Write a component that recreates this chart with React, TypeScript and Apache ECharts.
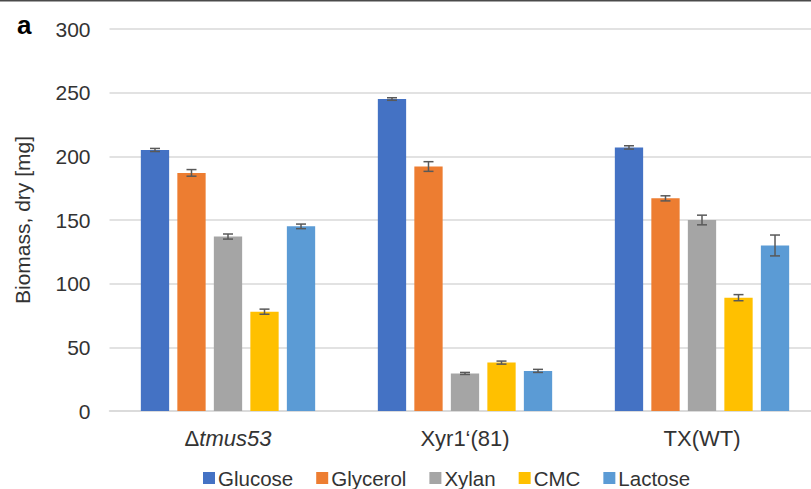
import React, { useEffect, useRef } from "react";
import * as echarts from "echarts";

const categories = ["Δtmus53", "Xyr1‘(81)", "TX(WT)"];
const seriesNames = ["Glucose", "Glycerol", "Xylan", "CMC", "Lactose"];
const glucose = [205, 245, 207];
const glycerol = [187, 192, 167];
const xylan = [137, 29.5, 150];
const cmc = [78, 38, 89];
const lactose = [145, 31.5, 130];
const glucoseErr = [1.2, 1, 1.3];
const glycerolErr = [2.6, 3.8, 2];
const xylanErr = [2, 0.8, 3.8];
const cmcErr = [2, 1.2, 2.4];
const lactoseErr = [1.8, 1.2, 8.2];
const yTicks = [0, 50, 100, 150, 200, 250, 300];

const colors = ["#4472C4", "#ED7D31", "#A5A5A5", "#FFC000", "#5B9BD5"];
const BAR_W = 28.3;
const GAP_RATIO = 0.29;
const FONT = "Liberation Sans, Arial, sans-serif";

export default function App() {
  const ref = useRef<HTMLDivElement>(null);
  useEffect(() => {
    if (!ref.current) return;
    const chart = echarts.init(ref.current, null, { renderer: "svg" });
    const values = [glucose, glycerol, xylan, cmc, lactose];
    const errs = [glucoseErr, glycerolErr, xylanErr, cmcErr, lactoseErr];
    const barSeries = seriesNames.map((name, i) => ({
      name,
      type: "bar",
      data: values[i],
      barWidth: BAR_W,
      barGap: `${GAP_RATIO * 100}%`,
      itemStyle: { color: colors[i] },
      z: 2,
    }));
    const errSeries = seriesNames.map((name, i) => ({
      name: name + " err",
      type: "custom",
      z: 5,
      data: values[i].map((v, k) => [k, v - errs[i][k], v + errs[i][k]]),
      encode: { x: 0, y: [1, 2] },
      renderItem: (params: any, api: any) => {
        const idx = api.value(0);
        const lo = api.coord([idx, api.value(1)]);
        const hi = api.coord([idx, api.value(2)]);
        const x = lo[0] + (i - 2) * BAR_W * (1 + GAP_RATIO);
        const cap = 5;
        const style = { stroke: "#595959", lineWidth: 1.5 };
        return {
          type: "group",
          children: [
            { type: "line", shape: { x1: x, y1: lo[1], x2: x, y2: hi[1] }, style },
            { type: "line", shape: { x1: x - cap, y1: lo[1], x2: x + cap, y2: lo[1] }, style },
            { type: "line", shape: { x1: x - cap, y1: hi[1], x2: x + cap, y2: hi[1] }, style },
          ],
        };
      },
    }));
    chart.setOption({
      animation: false,
      textStyle: { fontFamily: FONT },
      grid: { left: 109.5, width: 711, top: 29, height: 382 },
      legend: {
        data: seriesNames,
        left: 203,
        top: 467.5,
        padding: 0,
        itemWidth: 12,
        itemHeight: 12,
        itemGap: 23,
        icon: "rect",
        textStyle: { fontSize: 20.5, color: "#333333", fontFamily: FONT, padding: [0, 0, 0, -2] },
      },
      xAxis: {
        type: "category",
        data: categories,
        axisLine: { lineStyle: { color: "#d9d9d9", width: 1.5 } },
        axisTick: { show: false },
        axisLabel: {
          fontSize: 22,
          color: "#333333",
          margin: 16,
          formatter: (v: string) => (v.startsWith("Δ") ? `{n|Δ}{i|${v.slice(1)}}` : v),
          rich: {
            n: { fontSize: 22, color: "#333333", fontFamily: FONT },
            i: { fontSize: 22, color: "#333333", fontStyle: "italic", fontFamily: FONT },
          },
        },
      },
      yAxis: {
        type: "value",
        min: yTicks[0],
        max: yTicks[yTicks.length - 1],
        interval: yTicks[1] - yTicks[0],
        name: "Biomass, dry [mg]",
        nameLocation: "middle",
        nameGap: 77,
        nameTextStyle: { fontSize: 21, color: "#333333", fontFamily: FONT },
        axisLine: { show: false },
        axisTick: { show: false },
        axisLabel: { fontSize: 21, color: "#333333", margin: 19 },
        splitLine: { lineStyle: { color: "#d9d9d9", width: 1.5 } },
      },
      graphic: [
        { type: "rect", left: 0, top: 0, shape: { width: 811, height: 1.5 }, style: { fill: "#4a4a4a" } },
        { type: "text", left: 17, top: 12, style: { text: "a", fontSize: 26, fontWeight: "bold", fill: "#000", fontFamily: FONT } },
      ],
      series: [...barSeries, ...errSeries],
    });
    return () => chart.dispose();
  }, []);
  return (
    <div style={{ position: "fixed", left: 0, top: 0, width: 811, height: 489, overflow: "hidden", background: "#fff" }}>
      <div ref={ref} style={{ width: 830, height: 489 }} />
    </div>
  );
}
